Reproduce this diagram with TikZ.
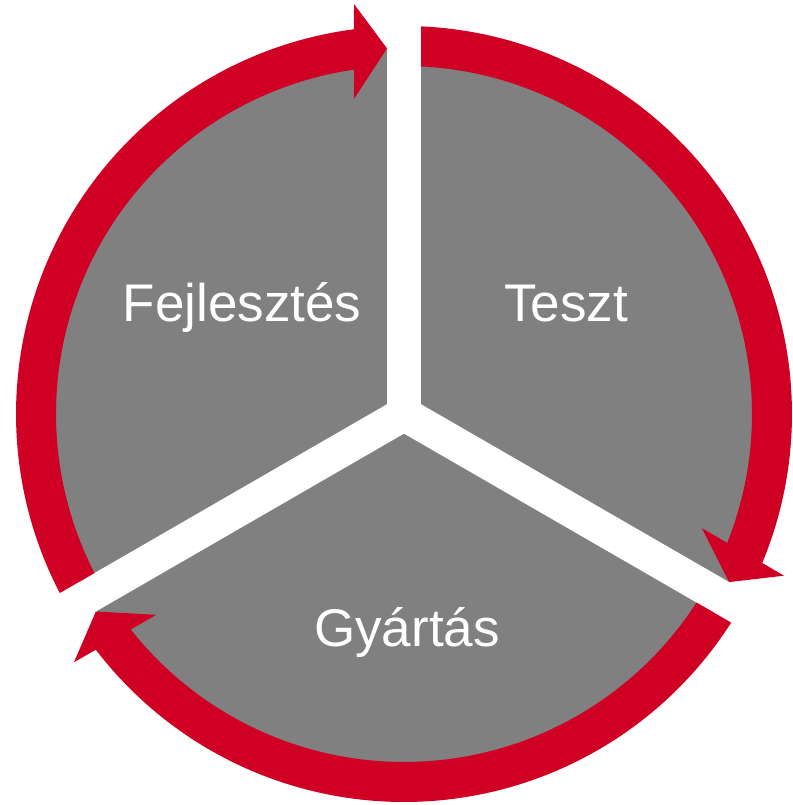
\documentclass[tikz,border=0pt]{standalone}
\usepackage{fontspec}
\setmainfont{Liberation Sans}
\definecolor{ringred}{RGB}{208,0,36}
\definecolor{sectorgrey}{RGB}{128,128,128}
\tikzset{
  ringarrow/.style={fill=ringred},
  gapline/.style={draw=white, line width=34},
  label/.style={text=white, font=\fontsize{53}{60}\selectfont, anchor=base, inner sep=0pt}
}
\begin{document}
\begin{tikzpicture}[x=1pt,y=1pt]
\useasboundingbox (-404,-391) rectangle (388,414);
% grey disc split into three sectors
\fill[sectorgrey] (0,0) circle[radius=365];
\foreach \a in {90,210,330}{
  \draw[gapline] (0,0) -- (\a:372);
}
\fill[white] (0,0) circle[radius=17];
% three red circular arrows
\foreach \r in {0,-120,-240}{
  \begin{scope}[rotate=\r]
    \fill[ringarrow] (207.48:388) arc[start angle=207.48, end angle=97.42, radius=388]
      -- (96.95:413) -- (92.66:366) -- (99.02:319) -- (98.26:348)
      arc[start angle=98.26, end angle=207.20, radius=348] -- cycle;
  \end{scope}
}
\node[label] (fej) at (-162,92) {Fejlesztés};
\node[label] (tesz) at (162,92) {Teszt};
\node[label] (gyar) at (3,-232) {Gyártás};
\end{tikzpicture}
\end{document}
